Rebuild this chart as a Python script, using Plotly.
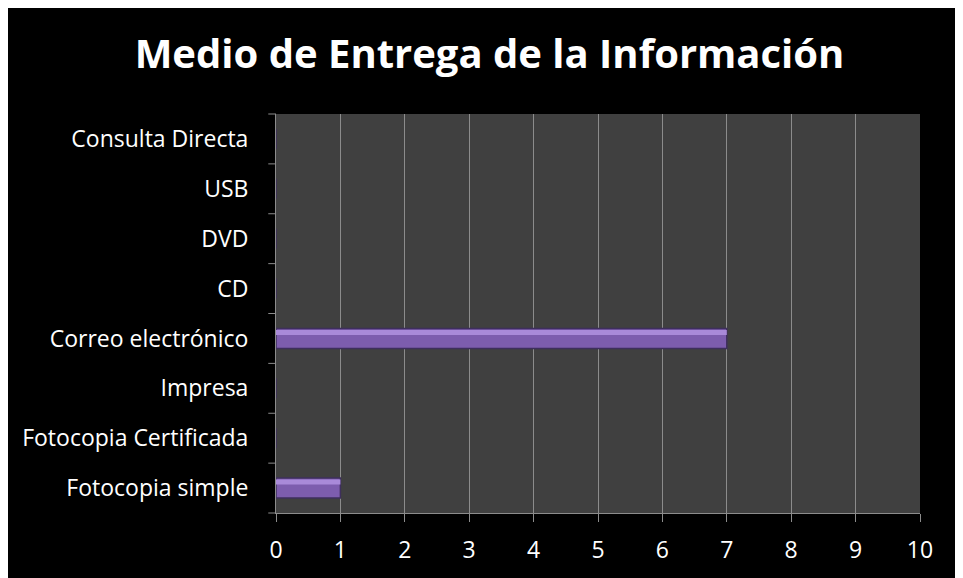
import plotly.graph_objects as go

categories = ["Fotocopia simple", "Fotocopia Certificada", "Impresa", "Correo electrónico",
              "CD", "DVD", "USB", "Consulta Directa"]
values = [1, 0, 0, 7, 0, 0, 0, 0]
x_ticks = list(range(0, 11))

fig = go.Figure()
fig.add_trace(go.Bar(
    y=categories, x=values, orientation="h", width=0.4, offset=-0.2,
    marker=dict(color="#7d5dae", line=dict(color="#3e2f5c", width=1.5)),
))
fig.add_trace(go.Bar(
    y=categories, x=values, orientation="h", width=0.1, offset=0.07,
    marker=dict(color="#a98ad9", line=dict(width=0)), hoverinfo="skip",
))
fig.update_layout(
    width=963, height=578, barmode="overlay",
    paper_bgcolor="black", plot_bgcolor="#404040",
    margin=dict(l=268, r=51, t=106, b=73),
    title=dict(text="<b>Medio de Entrega de la Información</b>", x=0.5, xanchor="center",
               y=0.92, yanchor="middle",
               font=dict(family="Open Sans", size=40, color="white")),
    showlegend=False,
    font=dict(family="Open Sans", color="white", size=23),
)
fig.update_xaxes(range=[0, 10], tickvals=x_ticks, showgrid=True, gridcolor="#8c8c8c", gridwidth=1,
                 showline=True, linecolor="#8c8c8c", ticks="outside", ticklen=8, tickcolor="#8c8c8c",
                 tickfont=dict(size=23, color="white"), ticklabelstandoff=8, zeroline=False)
fig.update_yaxes(showgrid=False, showline=True, linecolor="#8c8c8c", ticks="",
                 tickfont=dict(size=23, color="white"), ticklabelstandoff=22)
# boundary tick marks on y axis
for i in range(len(categories) + 1):
    fig.add_shape(type="line", xref="paper", yref="paper", x0=-0.012, x1=0,
                  y0=i / len(categories), y1=i / len(categories),
                  line=dict(color="#8c8c8c", width=1))
fig.write_html("out.html")
